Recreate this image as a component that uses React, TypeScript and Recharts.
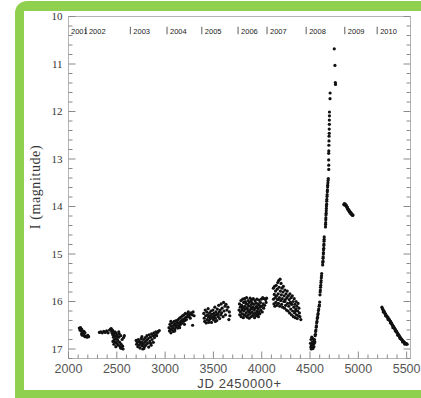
import React from "react";
import { ScatterChart, Scatter, XAxis, YAxis, ReferenceDot } from "recharts";

type Pt = [number, number];

// [JD - 2450000, I magnitude]
const season2001: Pt[] = [
  [2112, 16.56], [2118, 16.60], [2124, 16.55], [2130, 16.62], [2136, 16.58],
  [2142, 16.61], [2148, 16.65], [2135, 16.68], [2142, 16.71], [2152, 16.70],
  [2162, 16.72], [2172, 16.74], [2182, 16.73], [2192, 16.75], [2200, 16.71],
  [2160, 16.63], [2170, 16.66], [2208, 16.74],
];

const season2002: Pt[] = [
  [2320, 16.65], [2335, 16.64], [2350, 16.66], [2365, 16.63], [2380, 16.65],
  [2395, 16.62], [2410, 16.66], [2425, 16.60], [2435, 16.58], [2442, 16.57],
  [2446, 16.62], [2450, 16.66], [2455, 16.60], [2458, 16.70], [2462, 16.64],
  [2465, 16.75], [2470, 16.68], [2475, 16.80], [2480, 16.72], [2485, 16.85],
  [2490, 16.66], [2495, 16.78], [2500, 16.88], [2505, 16.70], [2510, 16.82],
  [2515, 16.92], [2520, 16.75], [2525, 16.68], [2530, 16.86], [2535, 16.95],
  [2540, 16.72], [2545, 16.90], [2550, 16.98], [2555, 16.80], [2560, 16.94],
  [2565, 17.0], [2570, 16.76], [2578, 16.72], [2460, 16.84], [2470, 16.90],
  [2480, 16.64], [2490, 16.95], [2520, 16.64], [2540, 16.98], [2500, 16.74],
];

const season2003: Pt[] = [
  [2700, 16.82], [2705, 16.90], [2712, 16.86], [2718, 16.95], [2722, 16.80],
  [2728, 16.92], [2735, 16.84], [2740, 16.98], [2745, 16.88], [2752, 16.78],
  [2758, 16.93], [2762, 16.85], [2768, 17.0], [2772, 16.90], [2778, 16.80],
  [2785, 16.95], [2790, 16.86], [2795, 16.76], [2800, 16.92], [2808, 16.82],
  [2812, 16.72], [2818, 16.88], [2825, 16.78], [2830, 16.96], [2835, 16.70],
  [2842, 16.84], [2848, 16.75], [2855, 16.92], [2860, 16.68], [2865, 16.80],
  [2872, 16.72], [2878, 16.86], [2885, 16.66], [2890, 16.76], [2898, 16.70],
  [2905, 16.64], [2912, 16.72], [2920, 16.66], [2930, 16.63], [2940, 16.61],
  [2850, 16.88], [2760, 16.74], [2780, 16.99],
];

const season2004: Pt[] = [
  [3040, 16.55], [3045, 16.62], [3050, 16.48], [3055, 16.58], [3060, 16.66],
  [3065, 16.52], [3070, 16.60], [3075, 16.45], [3080, 16.55], [3085, 16.63],
  [3090, 16.50], [3095, 16.42], [3100, 16.58], [3105, 16.47], [3110, 16.53],
  [3115, 16.40], [3120, 16.50], [3125, 16.44], [3130, 16.56], [3135, 16.38],
  [3140, 16.46], [3145, 16.52], [3150, 16.35], [3155, 16.43], [3160, 16.48],
  [3165, 16.33], [3170, 16.40], [3175, 16.45], [3180, 16.30], [3185, 16.38],
  [3190, 16.42], [3195, 16.28], [3200, 16.36], [3205, 16.40], [3210, 16.25],
  [3215, 16.33], [3220, 16.38], [3230, 16.27], [3235, 16.32], [3240, 16.22],
  [3250, 16.30], [3255, 16.26], [3260, 16.35], [3270, 16.24], [3280, 16.28],
  [3290, 16.22], [3300, 16.30], [3285, 16.50], [3060, 16.42], [3100, 16.62],
  [3150, 16.55], [3200, 16.48],
];

const season2005: Pt[] = [
  [3400, 16.25], [3405, 16.35], [3410, 16.42], [3415, 16.18], [3420, 16.30],
  [3425, 16.45], [3430, 16.22], [3435, 16.38], [3440, 16.28], [3445, 16.15],
  [3450, 16.33], [3455, 16.40], [3460, 16.24], [3465, 16.30], [3470, 16.36],
  [3475, 16.20], [3480, 16.44], [3485, 16.27], [3490, 16.33], [3495, 16.18],
  [3500, 16.38], [3505, 16.25], [3510, 16.30], [3515, 16.12], [3520, 16.35],
  [3525, 16.22], [3530, 16.28], [3535, 16.40], [3540, 16.16], [3545, 16.26],
  [3550, 16.32], [3555, 16.08], [3560, 16.22], [3565, 16.36], [3570, 16.18],
  [3575, 16.28], [3580, 16.05], [3585, 16.24], [3590, 16.14], [3600, 16.32],
  [3605, 16.02], [3610, 16.20], [3620, 16.10], [3625, 16.28], [3630, 16.06],
  [3640, 16.18], [3650, 16.12], [3660, 16.38], [3665, 16.22], [3670, 16.30],
  [3450, 16.44], [3520, 16.42],
];

const season2006: Pt[] = [
  [3765, 16.18], [3770, 16.05], [3772, 16.28], [3778, 16.12], [3780, 16.22],
  [3785, 15.98], [3788, 16.32], [3792, 16.08], [3795, 16.18], [3800, 16.26],
  [3803, 15.95], [3806, 16.12], [3810, 16.34], [3812, 16.02], [3816, 16.20],
  [3820, 16.28], [3822, 15.94], [3826, 16.10], [3830, 16.16], [3833, 16.30],
  [3836, 16.04], [3840, 16.24], [3843, 15.92], [3846, 16.14], [3850, 16.33],
  [3852, 16.06], [3856, 16.20], [3860, 15.98], [3862, 16.28], [3866, 16.10],
  [3870, 16.35], [3872, 16.02], [3876, 16.18], [3880, 15.93], [3882, 16.25],
  [3886, 16.08], [3890, 16.32], [3892, 16.14], [3896, 15.96], [3900, 16.22],
  [3903, 16.04], [3906, 16.30], [3910, 16.12], [3913, 15.94], [3916, 16.26],
  [3920, 16.06], [3923, 16.18], [3926, 16.34], [3930, 15.98], [3933, 16.14],
  [3936, 16.24], [3940, 16.03], [3943, 16.30], [3946, 16.10], [3950, 15.95],
  [3953, 16.20], [3956, 16.28], [3960, 16.05], [3963, 16.15], [3966, 16.32],
  [3970, 15.97], [3973, 16.22], [3976, 16.08], [3980, 16.26], [3983, 16.12],
  [3986, 16.02], [3990, 16.18], [3995, 15.95], [4000, 16.10], [4005, 16.22],
  [4010, 15.92], [4015, 16.05], [4020, 16.14], [4025, 15.94], [4030, 16.08],
  [4040, 15.96], [4045, 16.02], [4050, 15.93], [3800, 16.15], [3850, 16.15],
  [3900, 16.15], [3950, 16.12], [3830, 16.0], [3870, 16.22], [3920, 16.27],
  [3960, 16.25], [3890, 16.0],
];

const season2007: Pt[] = [
  [4120, 15.72], [4122, 15.95], [4126, 16.05], [4130, 15.85], [4133, 15.68],
  [4136, 16.10], [4140, 15.92], [4143, 15.78], [4146, 16.02], [4150, 15.66],
  [4153, 15.88], [4156, 16.08], [4160, 15.74], [4163, 15.96], [4166, 15.60],
  [4170, 15.84], [4173, 16.04], [4176, 15.56], [4180, 15.70], [4183, 15.92],
  [4186, 16.10], [4190, 15.53], [4193, 15.78], [4196, 15.98], [4200, 15.62],
  [4203, 15.86], [4206, 16.06], [4210, 15.72], [4213, 15.94], [4216, 16.12],
  [4220, 15.80], [4224, 15.68], [4228, 16.00], [4232, 15.88], [4236, 16.14],
  [4240, 15.76], [4244, 15.96], [4248, 16.08], [4252, 15.84], [4256, 16.18],
  [4260, 15.92], [4264, 15.78], [4268, 16.04], [4272, 16.20], [4276, 15.88],
  [4280, 16.10], [4284, 15.96], [4288, 16.24], [4292, 15.84], [4296, 16.02],
  [4300, 16.16], [4304, 15.92], [4308, 16.28], [4312, 16.06], [4316, 15.88],
  [4320, 16.20], [4324, 16.00], [4328, 16.32], [4332, 16.12], [4336, 15.94],
  [4340, 16.24], [4344, 16.06], [4348, 16.34], [4352, 16.16], [4356, 16.00],
  [4360, 16.28], [4364, 16.10], [4368, 16.36], [4372, 16.20], [4376, 16.04],
  [4380, 16.30], [4385, 16.14], [4390, 16.24], [4395, 16.32], [4405, 16.38],
  [4170, 15.95], [4240, 16.0], [4300, 16.05], [4350, 16.2],
];

const season2008: Pt[] = [
  [4505, 16.88], [4508, 16.96], [4510, 16.80], [4512, 17.0], [4515, 16.92],
  [4518, 16.75], [4520, 16.98], [4523, 16.86], [4525, 16.94], [4528, 16.78],
  [4530, 16.99], [4533, 16.90], [4536, 16.84], [4540, 16.95], [4543, 16.88],
  [4546, 16.80], [4550, 16.85], [4553, 16.72],
  [4556, 16.69], [4558, 16.63], [4561, 16.60], [4564, 16.54], [4566, 16.51],
  [4569, 16.45], [4572, 16.42], [4575, 16.36], [4578, 16.33], [4581, 16.28],
  [4584, 16.25], [4587, 16.19], [4590, 16.16], [4594, 16.10], [4597, 16.07],
  [4600, 16.01],
  [4603, 15.86], [4605, 15.80], [4607, 15.76], [4609, 15.70], [4611, 15.66],
  [4613, 15.60], [4615, 15.56], [4617, 15.50], [4619, 15.46], [4621, 15.41],
  [4631, 15.23], [4632, 15.18], [4634, 15.15], [4635, 15.09], [4636, 15.06],
  [4638, 15.00], [4639, 14.97], [4640, 14.91], [4642, 14.88], [4643, 14.82],
  [4644, 14.79], [4645, 14.73], [4646, 14.69], [4647, 14.64],
  [4660, 14.43], [4661, 14.38], [4662, 14.34], [4663, 14.28], [4664, 14.24],
  [4665, 14.18], [4667, 14.14], [4668, 14.09], [4669, 14.04], [4670, 13.99],
  [4672, 13.95], [4673, 13.89], [4674, 13.85], [4676, 13.79], [4677, 13.75],
  [4679, 13.69], [4680, 13.65], [4682, 13.59], [4683, 13.55], [4685, 13.50],
  [4687, 13.45], [4689, 13.41],
  [4694, 13.22], [4694, 13.13], [4693, 13.02], [4693, 12.88], [4694, 12.83],
  [4695, 12.71], [4696, 12.62], [4697, 12.52], [4699, 12.46], [4699, 12.37],
  [4700, 12.27], [4700, 12.18], [4701, 12.09], [4701, 12.01],
  [4707, 11.73], [4708, 11.61], [4762, 11.39], [4764, 11.43], [4758, 11.03],
  [4751, 10.68],
];

const season2009: Pt[] = [
  [4850, 13.96], [4855, 13.94], [4860, 13.97], [4865, 13.95], [4870, 13.98],
  [4874, 13.97], [4878, 14.0], [4882, 14.02], [4886, 14.01], [4890, 14.05],
  [4894, 14.06], [4898, 14.08], [4902, 14.07], [4906, 14.11], [4910, 14.10],
  [4914, 14.13], [4918, 14.12], [4922, 14.15], [4926, 14.14], [4930, 14.17],
  [4935, 14.16], [4940, 14.19], [4945, 14.18],
];

const season2010: Pt[] = [
  [5244, 16.12], [5250, 16.15], [5255, 16.17], [5260, 16.19], [5265, 16.21],
  [5270, 16.22], [5275, 16.25], [5280, 16.26], [5285, 16.28], [5290, 16.30],
  [5295, 16.31], [5300, 16.33], [5305, 16.33], [5310, 16.36], [5315, 16.37],
  [5320, 16.38], [5325, 16.40], [5330, 16.41], [5335, 16.43], [5340, 16.45],
  [5345, 16.46], [5350, 16.49], [5355, 16.50], [5360, 16.52], [5365, 16.53],
  [5370, 16.55], [5375, 16.57], [5380, 16.58], [5385, 16.60], [5390, 16.62],
  [5395, 16.63], [5400, 16.65], [5405, 16.67], [5410, 16.68], [5415, 16.70],
  [5420, 16.71], [5425, 16.73], [5430, 16.75], [5435, 16.76], [5440, 16.78],
  [5445, 16.79], [5450, 16.80], [5455, 16.82], [5460, 16.83], [5465, 16.84],
  [5470, 16.85], [5475, 16.86], [5480, 16.87], [5485, 16.88], [5490, 16.88],
  [5495, 16.89], [5500, 16.89], [5505, 16.90],
  [5258, 16.22], [5282, 16.30], [5308, 16.38], [5332, 16.45], [5358, 16.55],
  [5382, 16.62], [5408, 16.71], [5432, 16.78], [5458, 16.85], [5482, 16.90],
];

const xMajorTicks = [2000, 2500, 3000, 3500, 4000, 4500, 5000, 5500];
const xMinorTicks = [
  2000, 2100, 2200, 2300, 2400, 2500, 2600, 2700, 2800, 2900, 3000, 3100,
  3200, 3300, 3400, 3500, 3600, 3700, 3800, 3900, 4000, 4100, 4200, 4300,
  4400, 4500, 4600, 4700, 4800, 4900, 5000, 5100, 5200, 5300, 5400, 5500,
];
const yMajorTicks = [10, 11, 12, 13, 14, 15, 16, 17];
const yMinorTicks = [
  10, 10.2, 10.4, 10.6, 10.8, 11, 11.2, 11.4, 11.6, 11.8, 12, 12.2, 12.4,
  12.6, 12.8, 13, 13.2, 13.4, 13.6, 13.8, 14, 14.2, 14.4, 14.6, 14.8, 15,
  15.2, 15.4, 15.6, 15.8, 16, 16.2, 16.4, 16.6, 16.8, 17, 17.2,
];
const yearLabels = ["2001", "2002", "2003", "2004", "2005", "2006", "2007", "2008", "2009", "2010"];
const yearMarks = [2000, 2180, 2640, 3020, 3380, 3755, 4055, 4460, 4860, 5195];
const yearRow = 10.3; // magnitude level of the year strip

const points = [
  ...season2001, ...season2002, ...season2003, ...season2004, ...season2005,
  ...season2006, ...season2007, ...season2008, ...season2009, ...season2010,
].map(([jd, mag]) => ({ jd, mag }));

const AXIS = "#b4b4b4";
const TICK = "#8a8a8a";
const GREEN = "#8fd14f";
const SANS = "'Liberation Sans', Arial, Helvetica, sans-serif";
const SERIF = "'Liberation Serif', 'Times New Roman', serif";

const isIn = (v: number, list: number[]) => list.some((m) => Math.abs(m - v) < 1e-6);

function BottomTick(props: any) {
  const { x, y, payload } = props;
  const major = isIn(payload.value, xMajorTicks);
  return (
    <g>
      <line x1={x} x2={x} y1={y} y2={y - (major ? 7 : 4)} stroke={TICK} />
      {major && (
        <text x={x} y={y + 14} textAnchor="middle" fontSize={12.5} fontFamily={SANS} fill="#555">
          {payload.value}
        </text>
      )}
    </g>
  );
}

function TopTick(props: any) {
  const { x, y, payload } = props;
  const len = isIn(payload.value, xMajorTicks) ? 7 : 4;
  return <line x1={x} x2={x} y1={y} y2={y + len} stroke={TICK} />;
}

function LeftTick(props: any) {
  const { x, y, payload } = props;
  const major = isIn(payload.value, yMajorTicks);
  return (
    <g>
      <line x1={x} x2={x + (major ? 7 : 4)} y1={y} y2={y} stroke={TICK} />
      {major && (
        <text x={x - 6} y={y} dy="0.35em" textAnchor="end" fontSize={11} fontFamily={SERIF} fill="#333">
          {payload.value}
        </text>
      )}
    </g>
  );
}

function RightTick(props: any) {
  const { x, y, payload } = props;
  const len = isIn(payload.value, yMajorTicks) ? 7 : 4;
  return <line x1={x} x2={x - len} y1={y} y2={y} stroke={TICK} />;
}

function YearMark(props: any, i: number) {
  const { cx, cy } = props;
  return (
    <g>
      {i > 0 && <line x1={cx} x2={cx} y1={cy - 4} y2={cy + 3.5} stroke="#333" strokeWidth={0.8} />}
      <text x={cx + (i > 0 ? 3 : 2.5)} y={cy + 2.8} fontSize={7.5} fontFamily={SANS} fill="#222">
        {yearLabels[i]}
      </text>
    </g>
  );
}

const Dot = (p: any) => <circle cx={p.cx} cy={p.cy} r={1.6} fill="#111" />;

export default function App() {
  return (
    <div style={{ position: "absolute", left: 0, top: 0, width: 421, height: 398, background: "#fff", overflow: "hidden" }}>
      {/* green frame: left, top and bottom bands only */}
      <div style={{ position: "absolute", left: 15, top: 1, width: 30, height: 397, background: GREEN, borderTopLeftRadius: 12 }} />
      <div style={{ position: "absolute", left: 30, top: 1, width: 391, height: 10, background: GREEN }} />
      <div style={{ position: "absolute", left: 30, top: 390, width: 391, height: 8, background: GREEN }} />
      <div style={{ position: "absolute", left: 24, top: 11, width: 397, height: 379, background: "#fff" }} />
      <div style={{ position: "absolute", left: 0, top: 0 }}>
        <ScatterChart width={421} height={398} margin={{ top: 15.5, right: 9.5, bottom: 38.5, left: 67.5 }}>
          <XAxis
            xAxisId={0}
            dataKey="jd"
            type="number"
            domain={[2000, 5540]}
            allowDataOverflow
            ticks={xMinorTicks}
            interval={0}
            height={1}
            tickSize={0}
            tickMargin={0}
            tickLine={false}
            axisLine={{ stroke: AXIS }}
            tick={BottomTick}
          />
          <XAxis
            xAxisId="top"
            orientation="top"
            type="number"
            domain={[2000, 5540]}
            allowDataOverflow
            ticks={xMinorTicks}
            interval={0}
            height={1}
            tickSize={0}
            tickMargin={0}
            tickLine={false}
            axisLine={{ stroke: AXIS }}
            tick={TopTick}
          />
          <YAxis
            yAxisId={0}
            dataKey="mag"
            type="number"
            domain={[10, 17.2]}
            reversed
            allowDataOverflow
            ticks={yMinorTicks}
            interval={0}
            width={1}
            tickSize={0}
            tickMargin={0}
            tickLine={false}
            axisLine={{ stroke: AXIS }}
            tick={LeftTick}
          />
          <YAxis
            yAxisId="right"
            orientation="right"
            type="number"
            domain={[10, 17.2]}
            reversed
            allowDataOverflow
            ticks={yMinorTicks}
            interval={0}
            width={1}
            tickSize={0}
            tickMargin={0}
            tickLine={false}
            axisLine={{ stroke: AXIS }}
            tick={RightTick}
          />
          <Scatter data={points} xAxisId={0} yAxisId={0} shape={Dot} isAnimationActive={false} />
          <Scatter data={[]} xAxisId="top" yAxisId="right" isAnimationActive={false} />
          {yearMarks.map((jd, i) => (
            <ReferenceDot
              key={yearLabels[i]}
              x={jd}
              y={yearRow}
              xAxisId={0}
              yAxisId={0}
              ifOverflow="visible"
              shape={(p: any) => YearMark(p, i)}
            />
          ))}
        </ScatterChart>
      </div>
      <div
        style={{
          position: "absolute",
          left: 36,
          top: 187,
          transform: "translate(-50%, -50%) rotate(-90deg)",
          whiteSpace: "nowrap",
          fontFamily: SERIF,
          fontSize: 14,
          letterSpacing: 0.6,
          color: "#333",
        }}
      >
        I (magnitude)
      </div>
      <div
        style={{
          position: "absolute",
          left: 239.5,
          top: 383,
          transform: "translate(-50%, -50%)",
          whiteSpace: "nowrap",
          fontFamily: SANS,
          fontSize: 13,
          letterSpacing: 0.6,
          color: "#444",
        }}
      >
        JD 2450000+
      </div>
    </div>
  );
}
